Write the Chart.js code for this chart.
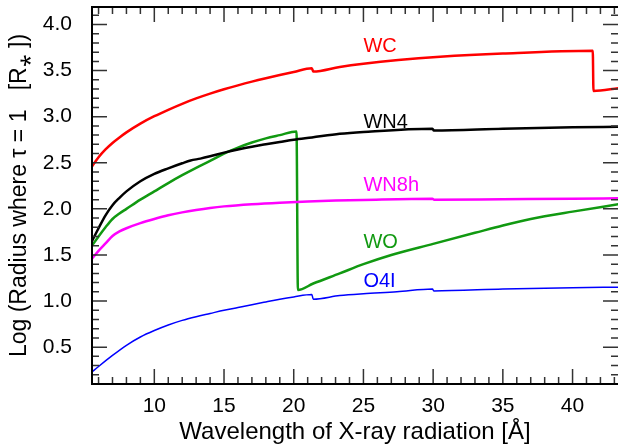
<!DOCTYPE html>
<html>
<head>
<meta charset="utf-8">
<script src="https://cdn.jsdelivr.net/npm/chart.js@4.4.1/dist/chart.umd.min.js"></script>
<style>
html,body{margin:0;padding:0;background:#fff;}
canvas{display:block;}
</style>
</head>
<body>
<canvas id="c" width="618" height="447"></canvas>
<script>
// ---- Data ----
const wcX = [5.53, 6, 6.5, 7, 7.5, 8, 9, 10, 11, 12, 13, 14, 15, 16, 17, 18, 19, 20, 21.3, 21.4, 23.3, 25, 27.5, 30.5, 35, 41.45, 41.5, 43.3];
const wcY = [2.46, 2.56, 2.645, 2.715, 2.775, 2.83, 2.925, 3.005, 3.075, 3.14, 3.198, 3.25, 3.297, 3.34, 3.38, 3.417, 3.452, 3.485, 3.525, 3.49, 3.54, 3.575, 3.615, 3.65, 3.685, 3.715, 3.28, 3.31];

const wn4X = [5.53, 6, 6.5, 7, 7.5, 8, 9, 10, 11, 12, 12.6, 13.3, 14, 15, 16, 17, 18, 19, 20, 21.3, 23.3, 25, 29.95, 30.05, 35, 40, 43.3];
const wn4Y = [1.65, 1.79, 1.93, 2.04, 2.12, 2.19, 2.30, 2.38, 2.44, 2.495, 2.525, 2.545, 2.57, 2.61, 2.645, 2.675, 2.70, 2.725, 2.75, 2.775, 2.815, 2.835, 2.87, 2.85, 2.87, 2.885, 2.89];

const wn8hX = [5.53, 6, 6.5, 7, 7.5, 8, 9, 10, 11, 12, 13, 14, 15, 17, 19, 21, 23, 25, 29.95, 30.05, 35, 40, 43.3];
const wn8hY = [1.46, 1.545, 1.625, 1.705, 1.755, 1.79, 1.845, 1.89, 1.93, 1.962, 1.988, 2.01, 2.027, 2.05, 2.067, 2.08, 2.09, 2.097, 2.11, 2.10, 2.105, 2.11, 2.115];

const woX = [5.53, 6, 6.5, 7, 7.5, 8, 9, 10, 11, 12, 13, 14, 15, 16, 17, 18, 19, 20.2, 20.3, 21.4, 23.3, 25, 27, 30, 33, 35, 37, 40, 43.3];
const woY = [1.60, 1.70, 1.80, 1.89, 1.95, 2.00, 2.10, 2.19, 2.28, 2.365, 2.445, 2.52, 2.60, 2.665, 2.72, 2.765, 2.80, 2.84, 1.12, 1.19, 1.30, 1.40, 1.50, 1.62, 1.74, 1.82, 1.89, 1.97, 2.05];

const o4iX = [5.53, 6, 7, 8, 9, 10, 11, 12, 13, 14, 15, 16, 17, 18, 19, 20, 21.3, 21.4, 23.3, 25, 27.4, 29.95, 30.05, 35, 40, 43.3];
const o4iY = [0.23, 0.29, 0.41, 0.52, 0.61, 0.68, 0.74, 0.79, 0.83, 0.865, 0.90, 0.93, 0.96, 0.99, 1.02, 1.045, 1.07, 1.02, 1.06, 1.08, 1.10, 1.13, 1.11, 1.13, 1.145, 1.15];

const seriesNames = ['WC', 'WN4', 'WN8h', 'WO', 'O4I'];
const xTickValues = [10, 15, 20, 25, 30, 35, 40];
const yTickValues = [0.5, 1.0, 1.5, 2.0, 2.5, 3.0, 3.5, 4.0];

// ---- Presentation ----
const colors = ['#ff0000', '#000000', '#ff00ff', '#119911', '#0000ff'];
const widths = [2.5, 2.5, 2.5, 2.5, 1.5];
// label anchors (data space, baseline-left)
const labelPos = [[25, 3.70], [25, 2.88], [25, 2.19], [25, 1.58], [25, 1.15]];
const FONT = "'Liberation Sans', Arial, sans-serif";

function pts(xs, ys) { return xs.map((x, i) => ({x: x, y: ys[i]})); }
const allX = [wcX, wn4X, wn8hX, woX, o4iX];
const allY = [wcY, wn4Y, wn8hY, woY, o4iY];

const datasets = seriesNames.map((n, i) => ({
  label: n,
  data: pts(allX[i], allY[i]),
  borderColor: colors[i],
  backgroundColor: colors[i],
  borderWidth: widths[i],
  pointRadius: 0,
  showLine: true,
  cubicInterpolationMode: 'monotone',
  fill: false
}));

const framePlugin = {
  id: 'frame',
  afterDraw(chart) {
    const ctx = chart.ctx;
    const a = chart.chartArea;
    const xs = chart.scales.x, ys = chart.scales.y;
    ctx.save();
    ctx.strokeStyle = '#333';
    ctx.lineWidth = 1.5;
    ctx.beginPath();
    for (let v = 6; v <= 43; v++) {
      const px = xs.getPixelForValue(v);
      const L = (v % 5 === 0) ? 15 : 7;
      ctx.moveTo(px, a.bottom); ctx.lineTo(px, a.bottom - L);
      ctx.moveTo(px, a.top); ctx.lineTo(px, a.top + L);
    }
    for (let k = 2; k <= 41; k++) {
      const v = k / 10;
      const py = ys.getPixelForValue(v);
      const L = (k % 5 === 0) ? 15 : 7;
      ctx.moveTo(a.left, py); ctx.lineTo(a.left + L, py);
      ctx.moveTo(a.right, py); ctx.lineTo(a.right - L, py);
    }
    ctx.stroke();
    ctx.strokeStyle = '#000';
    ctx.lineWidth = 2;
    ctx.beginPath();
    ctx.moveTo(a.right + 2, a.top);
    ctx.lineTo(a.left, a.top);
    ctx.lineTo(a.left, a.bottom);
    ctx.lineTo(a.right + 2, a.bottom);
    ctx.stroke();
    ctx.font = '20px ' + FONT;
    ctx.textAlign = 'left';
    ctx.textBaseline = 'alphabetic';
    seriesNames.forEach((n, i) => {
      ctx.fillStyle = colors[i];
      ctx.fillText(n, xs.getPixelForValue(labelPos[i][0]), ys.getPixelForValue(labelPos[i][1]));
    });
    ctx.restore();
  }
};

new Chart(document.getElementById('c'), {
  type: 'scatter',
  data: {datasets: datasets},
  options: {
    responsive: false,
    animation: false,
    devicePixelRatio: 1,
    layout: {padding: {top: 7, right: 0, left: 0, bottom: 0}},
    plugins: {legend: {display: false}, tooltip: {enabled: false}},
    scales: {
      x: {
        type: 'linear',
        min: 5.53, max: 43.26,
        grid: {display: false, drawTicks: false},
        border: {display: false},
        afterBuildTicks(s) { s.ticks = xTickValues.map(v => ({value: v})); },
        afterFit(s) { s.height = 63; s.paddingLeft = 0; s.paddingRight = 0; },
        ticks: {
          padding: 10,
          color: '#000',
          font: {family: FONT, size: 21},
          maxRotation: 0,
          callback: v => String(v)
        },
        title: {
          display: true,
          text: 'Wavelength of X-ray radiation [Å]',
          color: '#000',
          font: {family: FONT, size: 24},
          padding: {top: 0, bottom: 0}
        }
      },
      y: {
        type: 'linear',
        min: 0.1, max: 4.19,
        grid: {display: false, drawTicks: false},
        border: {display: false},
        afterBuildTicks(s) { s.ticks = yTickValues.map(v => ({value: v})); },
        afterFit(s) { s.width = 92; s.paddingTop = 0; s.paddingBottom = 0; },
        ticks: {
          padding: 20,
          color: '#000',
          font: {family: FONT, size: 21},
          callback: v => Number(v).toFixed(1)
        },
        title: {
          display: true,
          text: 'Log (Radius where τ = 1   [R⁎ ])',
          color: '#000',
          font: {family: FONT, size: 23},
          padding: {top: 6, bottom: 0}
        }
      }
    }
  },
  plugins: [framePlugin]
});
</script>
</body>
</html>
